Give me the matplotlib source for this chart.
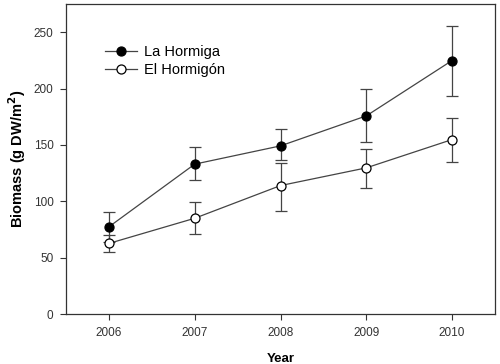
import matplotlib
matplotlib.use("Agg")
import matplotlib.pyplot as plt
from matplotlib.lines import Line2D

plt.rcParams['font.family'] = ['Liberation Sans', 'DejaVu Sans']

years = [2006, 2007, 2008, 2009, 2010]
hormiga = [77.4, 133.0, 149.2, 175.8, 224.9]
hormiga_up = [90.4, 147.8, 164.3, 200.0, 255.6]
hormiga_lo = [64.4, 118.5, 136.5, 152.5, 193.0]
hormigon = [62.7, 85.0, 114.0, 129.7, 154.8]
hormigon_up = [70.3, 99.3, 133.6, 146.5, 173.5]
hormigon_lo = [54.7, 71.0, 91.3, 112.0, 135.0]

fig = plt.figure(figsize=(5.0, 3.64), dpi=100)
ax = fig.add_axes([0.132, 0.137, 0.858, 0.852])

handles = []
for vals, up, lo, face, lab in [(hormiga, hormiga_up, hormiga_lo, "black", "La Hormiga"),
                                (hormigon, hormigon_up, hormigon_lo, "white", "El Hormigón")]:
    yerr = [[v - l for v, l in zip(vals, lo)], [u - v for v, u in zip(vals, up)]]
    ax.errorbar(years, vals, yerr=yerr, color="#444444", lw=0.9, elinewidth=0.9,
                capsize=4, capthick=0.9, marker="o", ms=6.5, mfc=face, mec="black",
                mew=0.9)
    handles.append(Line2D([], [], color="#444444", lw=0.9, marker="o", ms=6.5,
                          mfc=face, mec="black", mew=0.9, label=lab))

ax.set_xlim(2005.5, 2010.5)
ax.set_ylim(0, 275)
ax.set_xticks(years)
ax.set_yticks([0, 50, 100, 150, 200, 250])
ax.tick_params(labelsize=8.5, colors="#333333", length=4, width=0.8, pad=5)
for s in ax.spines.values():
    s.set_linewidth(0.9)
    s.set_color("#333333")

ax.set_xlabel("Year", fontsize=9.5, fontweight="bold", labelpad=10)
ax.set_ylabel(r"Biomass (g DW/m$^\mathbf{2}$)", fontsize=10.5, fontweight="bold", labelpad=4)

ax.legend(handles=handles, loc="upper left", bbox_to_anchor=(0.06, 0.91), frameon=False,
          fontsize=10.5, handlelength=2.2, handletextpad=0.5, labelspacing=0.25)

fig.savefig("out.png", dpi=100)
